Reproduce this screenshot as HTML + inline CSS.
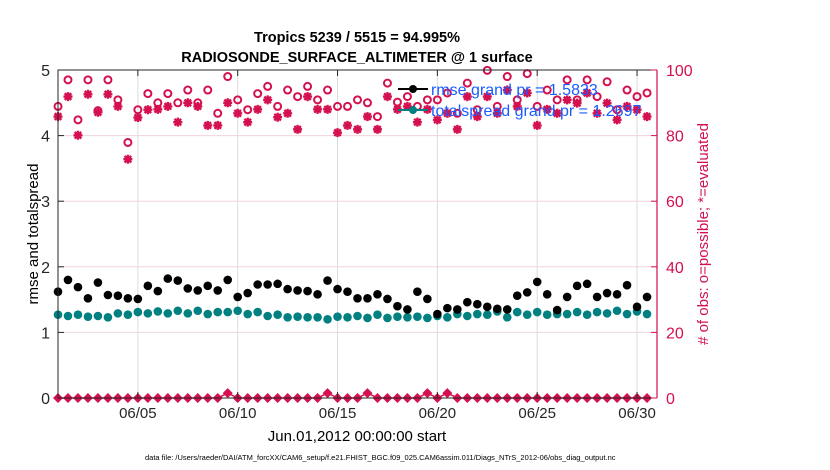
<!DOCTYPE html>
<html><head><meta charset="utf-8"><style>
body{margin:0;background:#fff;}
svg{display:block;font-family:"Liberation Sans",sans-serif;}
</style></head><body>
<svg id="chart" width="830" height="470" xmlns="http://www.w3.org/2000/svg">
<text x="357" y="42" text-anchor="middle" font-size="14.5" font-weight="bold">Tropics 5239 / 5515 = 94.995%</text>
<text x="357" y="62" text-anchor="middle" font-size="14.5" font-weight="bold">RADIOSONDE_SURFACE_ALTIMETER @ 1 surface</text>
<g id="grid"></g>
<g id="marks"></g>
<g id="axes"></g>
<text transform="translate(38,234) rotate(-90)" text-anchor="middle" font-size="15">rmse and totalspread</text>
<text transform="translate(708,234) rotate(-90)" text-anchor="middle" font-size="15" fill="#d4104e"># of obs: o=possible; *=evaluated</text>
<text x="357" y="441" text-anchor="middle" font-size="15">Jun.01,2012 00:00:00 start</text>
<text x="145" y="460" font-size="7.5">data file: /Users/raeder/DAI/ATM_forcXX/CAM6_setup/f.e21.FHIST_BGC.f09_025.CAM6assim.011/Diags_NTrS_2012-06/obs_diag_output.nc</text>
<g>
<line x1="398" y1="89" x2="428" y2="89" stroke="#000" stroke-width="2"/>
<circle cx="413" cy="89" r="4" fill="#000"/>
<text x="431" y="95" font-size="16" fill="#1a5cff">rmse grand pr = 1.5833</text>
<line x1="398" y1="110" x2="428" y2="110" stroke="#008080" stroke-width="2"/>
<circle cx="413" cy="110" r="4" fill="#008080"/>
<text x="431" y="116" font-size="16" fill="#1a5cff">totalspread grand pr = 1.2697</text>
</g>
</svg>
<script>
const xTicks=[5,10,15,20,25,30];
const xTickLabels=["06/05","06/10","06/15","06/20","06/25","06/30"];
const yLeftTicks=[0,1,2,3,4,5];
const yRightTicks=[0,20,40,60,80,100];
const rmse=[1.62,1.80,1.69,1.52,1.76,1.57,1.56,1.52,1.51,1.71,1.63,1.82,1.79,1.67,1.64,1.71,1.64,1.80,1.54,1.60,1.73,1.73,1.74,1.66,1.64,1.63,1.58,1.79,1.66,1.62,1.52,1.52,1.58,1.51,1.40,1.35,1.62,1.51,1.28,1.37,1.35,1.46,1.43,1.39,1.36,1.35,1.56,1.61,1.77,1.58,1.34,1.54,1.71,1.74,1.54,1.60,1.58,1.72,1.39,1.54];
const spread=[1.27,1.25,1.27,1.24,1.25,1.23,1.29,1.27,1.31,1.29,1.32,1.29,1.33,1.29,1.33,1.28,1.31,1.31,1.33,1.28,1.31,1.25,1.27,1.23,1.24,1.23,1.23,1.20,1.24,1.23,1.25,1.22,1.27,1.22,1.24,1.23,1.24,1.22,1.25,1.23,1.28,1.25,1.28,1.27,1.32,1.23,1.31,1.27,1.31,1.27,1.28,1.28,1.31,1.27,1.31,1.29,1.33,1.28,1.32,1.28];
const possible=[88.9,97.0,84.8,97.0,87.6,97.0,90.9,77.9,87.9,92.8,90.0,92.8,90.0,93.9,90.0,93.9,86.8,98.0,90.9,87.9,92.8,95.0,88.9,93.9,91.9,95.0,90.9,93.9,88.9,88.9,90.9,90.0,85.8,96.0,90.2,91.9,88.9,90.9,90.9,93.0,86.8,96.0,87.9,99.9,88.9,98.0,90.9,98.9,88.9,93.9,90.9,97.0,90.9,97.0,91.9,96.4,87.9,93.9,91.9,93.0];
const evaluated=[85.8,91.9,80.1,92.6,87.1,92.6,88.9,72.8,85.5,87.9,88.0,88.9,84.1,90.0,88.9,83.1,83.1,90.0,86.8,84.1,88.0,90.9,85.6,86.8,81.9,91.9,88.0,88.0,80.9,83.1,81.9,85.8,81.9,91.9,88.0,88.9,84.1,88.0,84.8,86.8,81.9,91.9,85.8,91.9,86.8,93.9,88.9,93.0,83.1,88.0,86.8,90.9,89.9,93.0,86.8,89.9,84.8,88.9,87.9,85.8];
const rejected=[0,0,0,0,0,0,0,0,0,0,0,0,0,0,0,0,0,1.5,0,0,0,0,0,0,0,0,0,1.5,0,0,0,1.5,0,0,0,0,0,1.5,0,1.5,0,0,0,0,0,0,0,0,0,0,0,0,0,0,0,0,0,0,0,0];
const PINK="#d4104e",NS="http://www.w3.org/2000/svg";
const L=58,R=657,T=70,B=398;
const xs=d=>L+(d-1)/30*(R-L);
const yl=v=>B-v/5*(B-T);
const yr=v=>B-v/100*(B-T);
const day=i=>1+i*0.5;
function mk(tag,attrs,parent){const e=document.createElementNS(NS,tag);for(const k in attrs)e.setAttribute(k,attrs[k]);parent.appendChild(e);return e;}
const grid=document.getElementById('grid'),marks=document.getElementById('marks'),axes=document.getElementById('axes');
xTicks.forEach(t=>{const g=mk('line',{x1:xs(t),x2:xs(t),y1:T,y2:B,stroke:'#dcdcdc','stroke-width':1},grid);

});
yRightTicks.forEach(t=>{if(t>0&&t<100){const g=mk('line',{x1:L,x2:R,y1:yr(t),y2:yr(t),stroke:'#f0d4de','stroke-width':1},grid);

}});
const rl=mk('polyline',{points:rejected.map((v,i)=>xs(day(i))+','+yr(v)).join(' '),fill:'none',stroke:PINK,'stroke-width':1.5},marks);


rejected.forEach((v,i)=>{const x=xs(day(i)),y=yr(v);const p=mk('path',{d:`M${x} ${y-5}L${x+5} ${y}L${x} ${y+5}L${x-5} ${y}Z`,fill:PINK},marks);

});
possible.forEach((v,i)=>{const c=mk('circle',{cx:xs(day(i)),cy:yr(v),r:3.5,fill:'none',stroke:PINK,'stroke-width':2},marks);

});
evaluated.forEach((v,i)=>{const x=xs(day(i)),y=yr(v),a=4.5,b=3.3;const p=mk('path',{d:`M${x-a} ${y}H${x+a}M${x} ${y-a}V${y+a}M${x-b} ${y-b}L${x+b} ${y+b}M${x-b} ${y+b}L${x+b} ${y-b}`,stroke:PINK,'stroke-width':2.4},marks);

});
spread.forEach((v,i)=>{const c=mk('circle',{cx:xs(day(i)),cy:yl(v),r:4.3,fill:'#008080'},marks);

});
rmse.forEach((v,i)=>{const c=mk('circle',{cx:xs(day(i)),cy:yl(v),r:4.3,fill:'#000'},marks);

});
const la=mk('path',{d:`M${L} ${B}V${T}H${R}`,fill:'none',stroke:'#262626','stroke-width':1},axes);


const bx=mk('line',{x1:L,x2:R,y1:B,y2:B,stroke:'#262626','stroke-width':1},axes);


const ra=mk('line',{x1:R,x2:R,y1:T,y2:B,stroke:PINK,'stroke-width':1.2},axes);


xTicks.forEach((t,i)=>{mk('line',{x1:xs(t),x2:xs(t),y1:B,y2:B-6,stroke:'#262626'},axes);mk('line',{x1:xs(t),x2:xs(t),y1:T,y2:T+6,stroke:'#262626'},axes);
const tx=mk('text',{x:xs(t),y:B+20,'text-anchor':'middle','font-size':15,fill:'#262626'},axes);tx.textContent=xTickLabels[i];

});
yLeftTicks.forEach(t=>{mk('line',{x1:L,x2:L+6,y1:yl(t),y2:yl(t),stroke:'#262626'},axes);
const tx=mk('text',{x:L-8,y:yl(t)+6,'text-anchor':'end','font-size':16,fill:'#262626'},axes);tx.textContent=t;

});
yRightTicks.forEach(t=>{mk('line',{x1:R-6,x2:R,y1:yr(t),y2:yr(t),stroke:PINK},axes);
const tx=mk('text',{x:R+9,y:yr(t)+6,'font-size':16,fill:PINK},axes);tx.textContent=t;

});
</script>
</body></html>
